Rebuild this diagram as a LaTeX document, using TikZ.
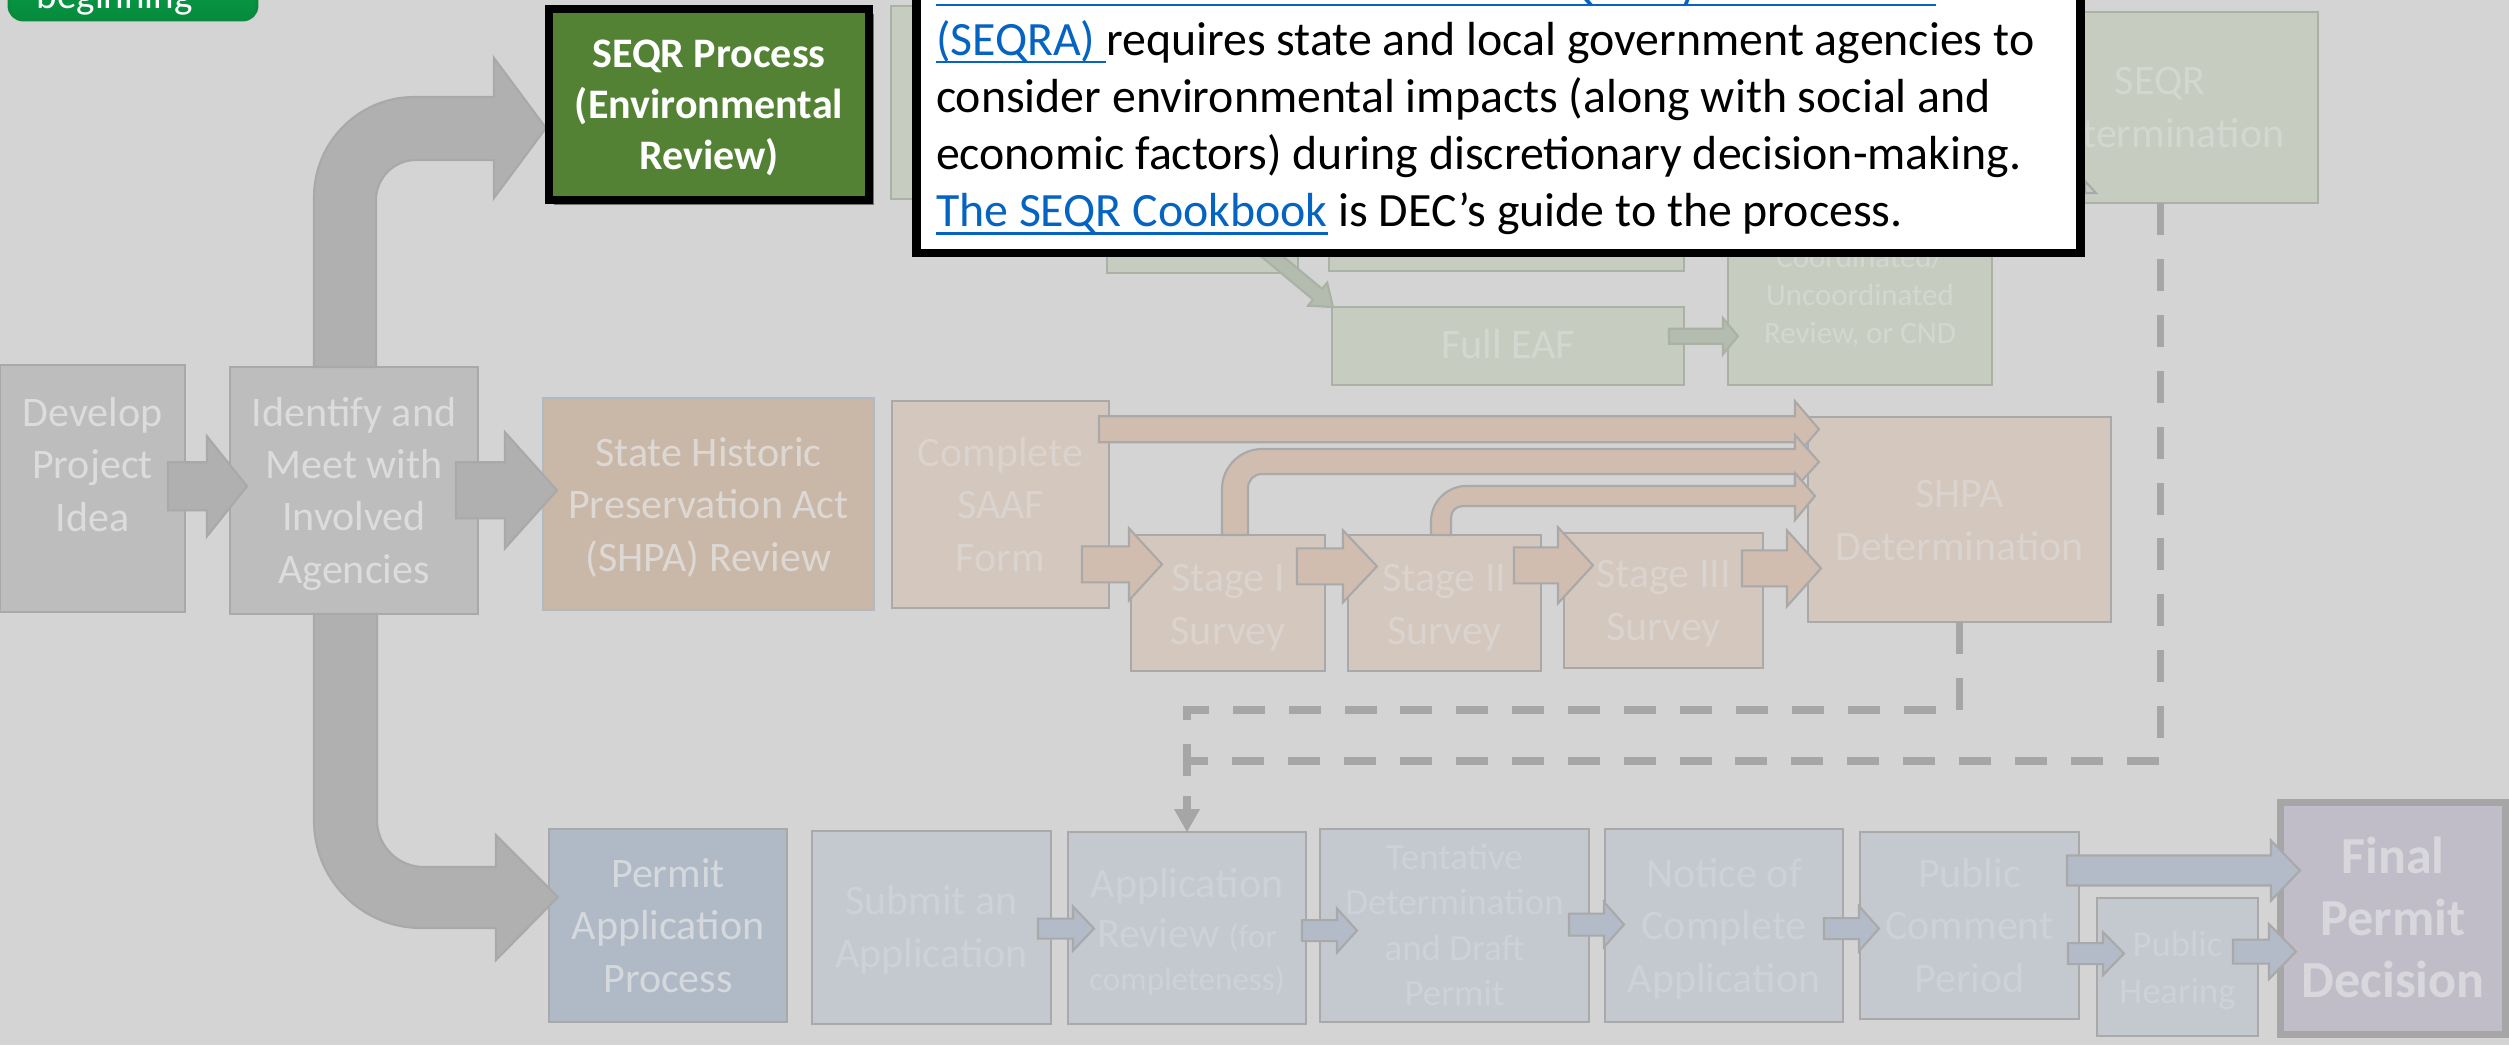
\documentclass[tikz,border=0pt]{standalone}
\usepackage{fontspec}
\setmainfont{Carlito}
\usetikzlibrary{calc,arrows.meta,shadows}

\definecolor{bg}{HTML}{D4D4D4}
\definecolor{grayfill}{HTML}{BDBDBD}
\definecolor{grayline}{HTML}{A9A9A9}
\definecolor{garrowfill}{HTML}{B0B0B0}
\definecolor{txtg}{HTML}{DCDCDC}
\definecolor{shparev}{HTML}{C9B7A8}
\definecolor{shparevline}{HTML}{B3B9C3}
\definecolor{shpasub}{HTML}{D4C7BE}
\definecolor{shpaarrow}{HTML}{D0BDAF}
\definecolor{txtsr}{HTML}{DDD8D3}
\definecolor{txts}{HTML}{DAD3CE}
\definecolor{permproc}{HTML}{AFBAC6}
\definecolor{permsub}{HTML}{C4C9D0}
\definecolor{permarrow}{HTML}{B3BBC9}
\definecolor{txtpp}{HTML}{D5D8DC}
\definecolor{txtp}{HTML}{CED1D6}
\definecolor{finalfill}{HTML}{C0BDC9}
\definecolor{txtf}{HTML}{D8D7DC}
\definecolor{seqrsub}{HTML}{C6CDC0}
\definecolor{seqrline}{HTML}{AAB2A5}
\definecolor{seqrarrow}{HTML}{B4BCB0}
\definecolor{txtq}{HTML}{D3D7D0}
\definecolor{seqrgreen}{HTML}{548235}
\definecolor{linkblue}{HTML}{0563C1}
\definecolor{btngreen}{HTML}{00B050}
\definecolor{btndark}{HTML}{078A3C}
\definecolor{dashgray}{HTML}{A6A6A6}

\newcommand\fsz[2]{\fontsize{#1}{#2}\selectfont}
\newcommand\mybox[6]{\node[#1, minimum width={((#5)-(#3))*0.01cm}, minimum height={((#6)-(#4))*0.01cm}] (#2) at ({((#3)+(#5))/2},{((#4)+(#6))/2}) {};}
\newcommand\myarrow[7]{\draw[#1] let \p1=(#2), \p2=(#3) in
 (\x1,{-((#4)-(#5))*0.28453pt}) -- ({\x2-(#7)*0.28453pt},{-((#4)-(#5))*0.28453pt})
 -- ({\x2-(#7)*0.28453pt},{-((#4)-(#6))*0.28453pt}) -- (\x2,{-(#4)*0.28453pt})
 -- ({\x2-(#7)*0.28453pt},{-((#4)+(#6))*0.28453pt}) -- ({\x2-(#7)*0.28453pt},{-((#4)+(#5))*0.28453pt})
 -- (\x1,{-((#4)+(#5))*0.28453pt}) -- cycle;}

\tikzset{
 box/.style={rectangle, inner sep=0pt, outer sep=0pt, line width=0.8pt},
 graybox/.style={box, fill=grayfill, draw=grayline},
 shparevbox/.style={box, fill=shparev, draw=shparevline},
 shpabox/.style={box, fill=shpasub, draw=grayline},
 permprocbox/.style={box, fill=permproc, draw=grayline},
 permbox/.style={box, fill=permsub, draw=grayline},
 finalbox/.style={box, fill=finalfill, draw=dashgray, line width=2pt},
 seqrrow/.style={box, fill=seqrsub, draw=seqrline},
 seqrbox/.style={box, fill=seqrgreen, draw=black, line width=2pt, drop shadow={shadow xshift=1.4pt, shadow yshift=-1.4pt, opacity=.45, fill=black}},
 popupbox/.style={box, fill=white, draw=black, line width=2.3pt, drop shadow={shadow xshift=1pt, shadow yshift=-1.2pt, opacity=.3, fill=black}},
 btnbox/.style={box, rounded corners=4pt, top color=btngreen, bottom color=btndark, draw=btndark, line width=0.8pt},
 garrow/.style={fill=garrowfill, draw=grayline, line width=0.6pt},
 sarrow/.style={fill=shpaarrow, draw=grayline, line width=0.6pt},
 parrow/.style={fill=permarrow, draw=grayline, line width=0.6pt},
 qarrow/.style={fill=seqrarrow, draw=seqrline, line width=0.6pt},
 btxt/.style={anchor=base, align=center, inner sep=0pt, outer sep=0pt, font=\fsz{11.95}{14.8}},
 ptxt/.style={anchor=base west, inner sep=0pt, outer sep=0pt, font=\fsz{13.6}{16}},
 link/.style={text=linkblue},
 uline/.style={draw=linkblue, line width=0.85pt},
 dashline/.style={draw=dashgray, line width=2pt, dash pattern=on 9.1pt off 6.8pt, -{Triangle[length=6.5pt,width=6.8pt]}},
}

\begin{document}
\begin{tikzpicture}[x=0.01cm,y=-0.01cm]
\clip (0,0) rectangle (2509,1045);
\useasboundingbox (0,0) rectangle (2509,1045);
\fill[bg] (0,0) rectangle (2509,1045);

% ---------- back button ----------
\mybox{btnbox}{beginbtn}{9}{-60}{257}{20}
\node[anchor=base west, inner sep=0pt, text=white, font=\fsz{11.1}{13}] (begint) at (36,8) {beginning};

% ---------- boxes ----------
% SEQR row
\mybox{seqrrow}{seqrA}{891}{6}{1110}{199}
\mybox{seqrrow}{seqrB}{1107}{150}{1298}{273}
\mybox{seqrrow}{seqrC}{1329}{150}{1684}{271}
\mybox{seqrrow}{fulleaf}{1332}{307}{1684}{385}
\mybox{seqrrow}{coord}{1728}{215}{1992}{385}
\mybox{seqrrow}{seqrdet}{2002}{12}{2318}{203}
% SHPA row
\mybox{graybox}{develop}{0}{365}{185}{612}
\mybox{graybox}{identify}{230}{367}{478}{614}
\mybox{shparevbox}{shpa}{543}{398}{874}{610}
\mybox{shpabox}{saaf}{892}{401}{1109}{608}
\mybox{shpabox}{stage1}{1131}{535}{1325}{671}
\mybox{shpabox}{stage2}{1348}{535}{1541}{671}
\mybox{shpabox}{stage3}{1564}{533}{1763}{668}
\mybox{shpabox}{shpadet}{1808}{417}{2111}{622}
% permit row
\mybox{permprocbox}{permit}{549}{829}{787}{1022}
\mybox{permbox}{submit}{812}{831}{1051}{1024}
\mybox{permbox}{appreview}{1068}{832}{1306}{1024}
\mybox{permbox}{tentative}{1320}{829}{1589}{1022}
\mybox{permbox}{notice}{1605}{829}{1843}{1022}
\mybox{permbox}{public}{1860}{832}{2079}{1019}
\mybox{permbox}{hearing}{2097}{898}{2258}{1036}
\mybox{finalbox}{final}{2280.5}{802.5}{2505.5}{1034.5}

% ---------- block arrows ----------
% SEQR row
\draw[qarrow] (1257.5,253.4) -- (1313.1,299.6) -- (1308.0,305.7) -- (1333,307) -- (1327.2,282.7) -- (1322.1,288.8) -- (1266.5,242.6) -- cycle;
\myarrow{qarrow}{$(fulleaf.east)+(-15,0)$}{$(coord.west)+(10,0)$}{336}{7.5}{18}{15}
\draw[fill=seqrsub, draw=grayline, line width=0.6pt] (2085,181) -- (2096,193) -- (2085,193) -- cycle;

% big grey arrows from Identify
\draw[garrow] (314,367) -- (314,197) .. controls (314,142) and (359,97) .. (414,97) -- (494,97) -- (494,58) -- (546,128) -- (494,198) -- (494,160) -- (416,160) .. controls (394,160) and (376,178) .. (376,200) -- (376,367) -- cycle;
\draw[garrow] (314,614) -- (314,821) .. controls (314,880) and (362,928) .. (421,928) -- (496,928) -- (496,960) -- (558,897) -- (496,835) -- (496,867) -- (424,867) .. controls (398,867) and (377,846) .. (377,820) -- (377,614) -- cycle;
\myarrow{garrow}{$(develop.east)+(-17,0)$}{$(identify.west)+(17,0)$}{486}{24}{50}{40}
\myarrow{garrow}{$(identify.east)+(-22,0)$}{$(shpa.west)+(14,0)$}{490}{28}{58}{52}

% SHPA arrows
\myarrow{sarrow}{$(saaf.east)+(-10,0)$}{$(shpadet.west)+(11,0)$}{429}{13}{28}{24}
\draw[sarrow] (1222,535) -- (1222,489) .. controls (1222,467) and (1240,449) .. (1262,449) -- (1795,449) -- (1795,435) -- (1819,462) -- (1795,488) -- (1795,474) -- (1262,474) .. controls (1254,474) and (1248,480) .. (1248,488) -- (1248,535) -- cycle;
\draw[sarrow] (1431,535) -- (1431,521) .. controls (1431,502) and (1447,486) .. (1466,486) -- (1795,486) -- (1795,473) -- (1815,496) -- (1795,520) -- (1795,506) -- (1463,506) .. controls (1456,506) and (1451,511) .. (1451,518) -- (1451,535) -- cycle;
\myarrow{sarrow}{$(saaf.east)+(-27,0)$}{$(stage1.west)+(31,0)$}{564}{18}{36}{33}
\myarrow{sarrow}{$(stage1.east)+(-28,0)$}{$(stage2.west)+(29,0)$}{566}{18}{36}{34}
\myarrow{sarrow}{$(stage2.east)+(-27,0)$}{$(stage3.west)+(29,0)$}{565}{18}{38}{35}
\myarrow{sarrow}{$(stage3.east)+(-21,0)$}{$(shpadet.west)+(13,0)$}{568}{18}{38}{34}

% permit arrows
\myarrow{parrow}{$(submit.east)+(-13,0)$}{$(appreview.west)+(26,0)$}{928}{10}{22}{21}
\myarrow{parrow}{$(appreview.east)+(-4,0)$}{$(tentative.west)+(37,0)$}{930}{10.5}{22}{20}
\myarrow{parrow}{$(tentative.east)+(-20,0)$}{$(notice.west)+(19,0)$}{924}{11}{22.5}{20}
\myarrow{parrow}{$(notice.east)+(-19,0)$}{$(public.west)+(19,0)$}{928}{10.5}{22.5}{20}
\myarrow{parrow}{$(public.east)+(-12,0)$}{$(final.west)+(19.5,0)$}{870}{15}{30}{29}
\myarrow{parrow}{$(public.east)+(-11,0)$}{$(hearing.west)+(27,0)$}{953}{10.5}{21.5}{21}
\myarrow{parrow}{$(hearing.east)+(-25,0)$}{$(final.west)+(15.5,0)$}{951}{12}{27.5}{27}

% ---------- box texts (anchored at the baseline of the last line) ----------
\node[btxt, text=txtq] (fulleaft) at ($(fulleaf.north)+(0,51)$) {Full EAF};
\node[btxt, text=txtq, font=\fsz{8.8}{10.8}] (coordt) at ($(coord.north)+(0,128)$) {Coordinated/\\Uncoordinated\\Review, or CND};
\node[btxt, text=txtq] (seqrdett) at ($(seqrdet.north)+(0,135)$) {SEQR\\Determination};

\node[btxt, text=txtg] (developt) at ($(develop.north)+(0,166)$) {Develop\\Project\\Idea};
\node[btxt, text=txtg] (identifyt) at ($(identify.north)+(0,216)$) {Identify and\\Meet with\\Involved\\Agencies};
\node[btxt, text=txtsr] (shpat) at ($(shpa.north)+(0,173)$) {State Historic\\Preservation Act\\(SHPA) Review};
\node[btxt, text=txts] (saaft) at ($(saaf.north)+(0,170)$) {Complete\\SAAF\\Form};
\node[btxt, text=txts] (stage1t) at ($(stage1.north)+(0,109)$) {Stage I\\Survey};
\node[btxt, text=txts] (stage2t) at ($(stage2.north)+(0,109)$) {Stage II\\Survey};
\node[btxt, text=txts] (stage3t) at ($(stage3.north)+(0,107)$) {Stage III\\Survey};
\node[btxt, text=txts] (shpadett) at ($(shpadet.north)+(0,143)$) {SHPA\\Determination};

\node[btxt, text=txtpp] (permitt) at ($(permit.north)+(0,163)$) {Permit\\Application\\Process};
\node[btxt, text=txtp] (submitt) at ($(submit.north)+(0,136)$) {Submit an\\Application};
\node[btxt, text=txtp] (appreviewt) at ($(appreview.north)+(0,158)$) {Application\\[-0.6pt]Review {\fsz{9.4}{11}(for}\\[-2.6pt]{\fsz{9.4}{11}completeness)}};
\node[btxt, text=txtp, font=\fsz{10.5}{12.8}] (tentativet) at ($(tentative.north)+(0,176)$) {Tentative\\Determination\\and Draft\\Permit};
\node[btxt, text=txtp] (noticet) at ($(notice.north)+(0,163)$) {Notice of\\Complete\\Application};
\node[btxt, text=txtp] (publict) at ($(public.north)+(0,160)$) {Public\\Comment\\Period};
\node[btxt, text=txtp, font=\fsz{10.4}{13.1}] (hearingt) at ($(hearing.north)+(0,105)$) {Public\\Hearing};
\node[btxt, text=txtf, font={\fsz{14.8}{17.6}\bfseries}] (finalt) at ($(final.north)+(0,194.5)$) {Final\\Permit\\Decision};

% ---------- dashed connectors ----------
\draw[dashline] (shpadet.south) -- ++(0,88) -| (appreview.north);
\draw[dashline] (seqrdet.south) -- ++(0,558) -| (appreview.north);

% ---------- highlighted SEQR box ----------
\mybox{seqrbox}{seqr}{549}{9}{869}{200}
\node[btxt, text=white, font={\fsz{11.95}{14.5}\bfseries}] (seqrt) at ($(seqr.north)+(0,160)$) {SEQR Process\\(Environmental\\Review)};

% ---------- popup ----------
\mybox{popupbox}{popup}{916.5}{-60}{2080.5}{253}
\node[ptxt, link] (p0) at (936,-2) {New York State’s Environmental Quality Review Act\ \mbox{}};
\node[ptxt, link] (p1a) at (936,55) {(SEQRA)\ \mbox{}};
\node[ptxt] (p1b) at (p1a.base east) {requires state and local government agencies to};
\node[ptxt] (p2) at (936,112) {consider environmental impacts (along with social and};
\node[ptxt] (p3) at (936,169) {economic factors) during discretionary decision-making.};
\node[ptxt, link] (p4a) at (936,226) {The SEQR Cookbook};
\node[ptxt] (p4b) at (p4a.base east) {\ is DEC’s guide to the process.};
\draw[uline] ($(p0.base west)+(0,7)$) -- ($(p0.base east)+(0,7)$);
\draw[uline] ($(p1a.base west)+(0,7)$) -- ($(p1a.base east)+(0,7)$);
\draw[uline] ($(p4a.base west)+(0,7)$) -- ($(p4a.base east)+(0,7)$);
\end{tikzpicture}
\end{document}
